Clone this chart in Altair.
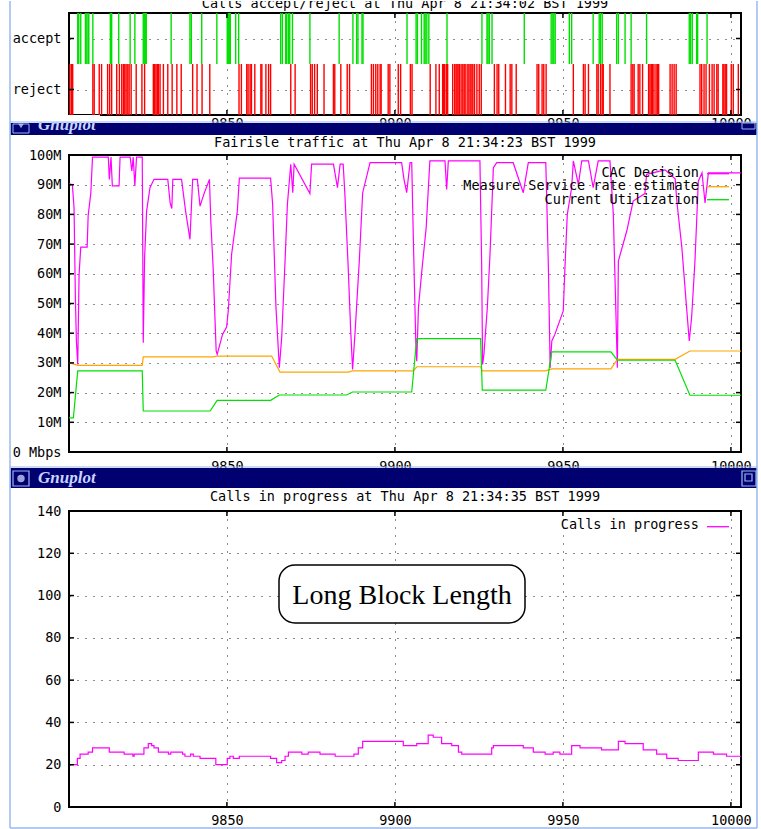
import altair as alt
import pandas as pd

MONO = "DejaVu Sans Mono"
SERIF = "Liberation Serif"
FS = 13.5
W = 672
H1, H2, H3 = 102, 297, 296
S0, S1, S2, S3 = 12, 40, 59, 23
NAVY = "#000070"
FRAME = "#9ab8ee"
BARTEXT = "#c8d6ff"

X_DOMAIN = [9803, 10003]
X_TICKS = [9850, 9900, 9950, 10000]

titles = [
    "Calls accept/reject at Thu Apr  8 21:34:02 BST 1999",
    "Fairisle traffic at Thu Apr  8 21:34:23 BST 1999",
    "Calls in progress at Thu Apr  8 21:34:35 BST 1999",
]
window_name = "Gnuplot"

# ---- panel 1: accept / reject impulses ----
decision_levels = ["accept", "reject"]
decision_colors = ["#00e000", "#ff0000"]
accept_x = [9805.6, 9805.9, 9806.5, 9807.9, 9808.3, 9808.7, 9808.9, 9810.1, 9815.3, 9815.7,
            9817.8, 9821.2, 9822.6, 9825.1, 9825.4, 9825.7, 9826.0, 9833.4, 9839.0, 9839.4,
            9842.5, 9847.0, 9850.1, 9850.4, 9850.7, 9851.0, 9852.6, 9853.5, 9866.0, 9866.5,
            9867.5, 9867.8, 9868.3, 9868.7, 9869.5, 9874.7, 9883.4, 9887.5, 9888.6, 9889.0,
            9890.2, 9890.5, 9903.6, 9906.3, 9906.7, 9907.9, 9908.7, 9909.0, 9909.5, 9910.1,
            9915.5, 9925.9, 9927.4, 9927.7, 9928.1, 9928.9, 9938.5, 9946.5, 9947.0, 9947.3,
            9947.7, 9951.9, 9952.6, 9959.0, 9960.8, 9961.2, 9961.7, 9966.0, 9966.5, 9968.5,
            9970.3, 9974.9, 9987.6, 9988.0, 9988.5, 9989.8, 9990.1, 9992.9]
reject_x = [9803.3, 9803.8, 9804.1, 9810.1, 9810.5, 9812.0, 9812.7, 9814.5, 9815.1, 9815.7,
            9817.2, 9818.0, 9818.7, 9819.2, 9819.6, 9820.0, 9820.5, 9820.9, 9821.5, 9823.0,
            9824.7, 9825.5, 9828.1, 9828.5, 9828.9, 9829.3, 9829.6, 9830.1, 9831.1, 9832.4,
            9833.7, 9835.1, 9836.4, 9839.8, 9841.1, 9842.6, 9844.9,
            9853.6, 9854.3, 9855.9, 9856.3, 9856.9, 9857.3, 9858.3, 9860.1, 9860.4, 9861.6,
            9862.4, 9863.0, 9869.0, 9870.3, 9874.9, 9875.4, 9876.1, 9876.9, 9878.9, 9881.7,
            9882.1, 9883.9, 9885.8, 9886.5, 9893.0, 9893.6, 9894.3, 9894.9, 9895.6, 9895.9,
            9898.0, 9898.5, 9901.0, 9901.7,
            9904.6, 9905.1, 9910.5, 9912.2, 9913.2, 9914.2, 9914.5, 9914.8, 9915.3, 9915.7,
            9917.2, 9917.8, 9918.2, 9918.5, 9918.8, 9919.2, 9919.7, 9920.2, 9920.6, 9920.9,
            9921.5, 9922.0, 9922.4, 9922.9, 9923.2, 9923.7, 9924.4, 9925.1, 9925.7, 9929.6,
            9930.4, 9930.9, 9932.9, 9934.3, 9934.8, 9936.1, 9942.3, 9942.8, 9943.8, 9944.3,
            9945.0,
            9953.1, 9956.1, 9956.6, 9957.6, 9960.1, 9960.5, 9961.2, 9961.7, 9962.0, 9964.0,
            9970.3, 9970.8, 9971.2, 9972.4, 9972.9, 9973.7, 9975.5, 9975.9, 9976.3, 9976.7,
            9977.1, 9977.7, 9978.1, 9978.5, 9981.9, 9982.5, 9983.1, 9983.7, 9990.8, 9991.3,
            9992.0, 9992.6, 9993.6, 9994.4, 9995.0, 9995.8, 9996.2, 9997.6, 9997.9, 9998.3,
            9998.7, 10000.1, 10000.7, 10002.2]

# ---- panel 2: traffic (Mbps) ----
traffic_names = ["CAC Decision", "Measure Service rate estimate", "Current Utilization"]
traffic_colors = ["#ff00ff", "#ffa500", "#00e000"]
traffic_ticks = [0, 10, 20, 30, 40, 50, 60, 70, 80, 90, 100]

cac_x = [9803.0, 9804.0, 9804.5, 9804.9, 9805.2, 9805.6, 9806.0, 9806.5, 9808.4, 9808.7,
         9809.5, 9810.0, 9814.7, 9815.0, 9815.5, 9815.9, 9817.9, 9818.2, 9821.2, 9821.7,
         9822.1, 9822.6, 9823.1, 9824.8, 9825.1, 9825.5, 9826.1, 9827.1, 9828.3, 9832.4,
         9833.1, 9833.6, 9833.9, 9836.5, 9837.7, 9839.0, 9839.8, 9841.2, 9842.0, 9843.2,
         9844.8, 9845.2, 9845.9, 9846.8, 9847.1, 9848.7, 9849.9, 9850.4, 9851.4, 9853.1,
         9853.7, 9863.0, 9863.6, 9864.6, 9865.6, 9866.3, 9867.3, 9868.0, 9869.0, 9869.6,
         9870.0, 9874.7, 9875.2, 9881.7, 9882.9, 9883.7, 9884.6, 9885.1, 9886.1, 9886.8,
         9887.4, 9888.1, 9889.4, 9890.4, 9892.6, 9902.0, 9902.7, 9903.5, 9904.5, 9905.0,
         9905.5, 9906.2, 9906.5, 9907.0, 9908.0, 9909.3, 9910.4, 9914.9, 9915.4, 9915.9,
         9925.3, 9925.8, 9926.1, 9926.5, 9927.5, 9928.3, 9929.3, 9930.3, 9935.2, 9938.2,
         9939.7, 9944.9, 9945.2, 9945.7, 9946.2, 9946.7, 9947.6, 9950.1, 9950.6, 9951.3,
         9952.6, 9953.1, 9954.6, 9955.6, 9957.6, 9959.0, 9960.5, 9964.0, 9965.0, 9966.2,
         9966.5, 9969.0, 9970.9, 9974.4, 9974.9, 9980.4, 9983.4, 9983.9, 9985.4, 9986.8,
         9987.6, 9988.3, 9989.3, 9990.3, 9991.4, 9992.3, 9993.3, 10003.0]
cac_m = [90.3, 90.0, 82.3, 52.0, 37.4, 29.5, 59.8, 69.0, 69.0, 79.5,
         87.3, 99.3, 99.3, 91.8, 99.3, 89.6, 89.6, 99.3, 99.3, 94.6,
         99.3, 89.6, 99.3, 99.3, 36.8, 65.4, 81.1, 89.0, 91.8, 91.8,
         83.9, 82.0, 91.8, 91.8, 81.1, 71.6, 91.8, 91.8, 82.8, 87.0,
         91.8, 77.8, 62.0, 34.0, 32.9, 39.6, 42.1, 47.5, 66.6, 81.1,
         92.2, 92.2, 83.5, 48.6, 28.4, 38.5, 64.3, 83.4, 96.9, 87.3,
         96.9, 87.0, 96.9, 96.9, 89.0, 96.9, 96.9, 87.0, 62.0, 41.9,
         27.8, 39.6, 64.3, 87.3, 97.4, 97.4, 91.8, 87.3, 97.4, 97.4,
         71.0, 37.4, 30.6, 48.6, 60.9, 75.5, 98.0, 98.0, 88.4, 98.0,
         98.0, 64.3, 29.5, 33.0, 48.6, 66.6, 95.7, 97.4, 97.4, 87.3,
         97.4, 97.4, 84.5, 60.9, 28.4, 37.4, 39.6, 47.5, 62.0, 80.0,
         89.0, 98.0, 90.1, 98.0, 98.0, 89.0, 98.0, 98.0, 80.0, 28.4,
         64.3, 74.4, 84.5, 87.0, 93.5, 95.0, 92.0, 84.5, 68.8, 48.6,
         37.4, 45.3, 64.3, 91.2, 94.0, 83.9, 94.0, 94.0]

rate_x = [9803.0, 9805.6, 9824.8, 9825.1, 9845.9, 9847.1, 9863.3, 9865.8, 9886.1, 9887.4,
          9905.5, 9906.5, 9925.5, 9926.0, 9944.9, 9946.7, 9964.3, 9966.2, 9983.4, 9987.8, 10003.0]
rate_m = [30.1, 29.2, 29.2, 32.0, 32.0, 32.3, 32.3, 26.9, 26.9, 27.3,
          27.3, 28.7, 28.7, 27.3, 27.3, 28.0, 28.0, 31.2, 31.2, 34.0, 34.0]

util_x = [9803.0, 9804.3, 9805.6, 9824.8, 9825.1, 9845.0, 9847.1, 9863.0, 9865.6, 9885.6,
          9887.4, 9905.0, 9906.5, 9925.5, 9926.0, 9944.9, 9946.7, 9964.3, 9966.2, 9983.4,
          9987.8, 10003.0]
util_m = [11.5, 11.5, 27.3, 27.3, 13.8, 13.8, 17.4, 17.4, 19.2, 19.2,
          20.2, 20.2, 38.2, 38.2, 20.8, 20.8, 33.7, 33.7, 30.9, 30.9,
          19.1, 19.1]

# ---- panel 3: calls in progress ----
calls_name = "Calls in progress"
calls_color = "#ff00ff"
block_label = "Long Block Length"
calls_ticks = [0, 20, 40, 60, 80, 100, 120, 140]
calls_x = [9803.0, 9805.5, 9806.3, 9808.7, 9810.0, 9815.0, 9819.4, 9822.0, 9822.4, 9825.3,
           9826.6, 9827.6, 9828.3, 9829.6, 9832.6, 9833.3, 9836.8, 9837.5, 9839.2, 9840.0,
           9842.0, 9846.7, 9850.1, 9850.9, 9851.9, 9853.7, 9863.0, 9864.8, 9866.3, 9867.3,
           9868.3, 9872.3, 9874.2, 9877.7, 9882.2, 9887.8, 9889.1, 9890.4, 9902.5, 9906.5,
           9909.9, 9911.4, 9913.9, 9916.9, 9918.9, 9919.9, 9928.8, 9929.3, 9938.2, 9941.2,
           9944.7, 9947.1, 9949.1, 9952.6, 9955.1, 9961.5, 9966.5, 9968.5, 9973.9, 9977.9,
           9980.9, 9984.3, 9990.3, 9994.8, 9998.7, 10003.0]
calls_n = [20, 23, 25, 26, 28, 26, 25, 24, 25, 28,
           30, 29, 28, 26, 25, 26, 25, 24, 25, 24,
           23, 20, 23, 24, 23, 24, 23, 21, 22, 24,
           26, 25, 26, 25, 24, 25, 28, 31, 29, 30,
           34, 33, 30, 29, 26, 25, 28, 29, 28, 26,
           25, 26, 25, 29, 28, 27, 31, 30, 27, 25,
           23, 22, 26, 25, 24, 24]

# ------------------------------------------------------------------
one = pd.DataFrame({"k": [0]})
v = alt.value
xs = alt.Scale(domain=X_DOMAIN, nice=False, zero=False)
GRID = dict(grid=True, gridDash=[1, 7], gridColor="#000", gridOpacity=0.9, gridWidth=1,
            ticks=False, domain=False, labelFont=MONO, labelFontSize=FS,
            labelColor="#000", labelFlush=False, title=None, labelOverlap=False)


def x_axis(pad):
    return alt.Axis(values=X_TICKS, format="d", labelPadding=pad, labelBaseline="top", **GRID)


def y_axis(values, expr):
    return alt.Axis(values=values, labelExpr=expr, labelPadding=8, **GRID)


def inward_ticks(ys, yvals, h, xax, yax):
    bx = alt.Chart(pd.DataFrame({"v": X_TICKS})).mark_rule(color="#000", strokeWidth=1.5)
    by = alt.Chart(pd.DataFrame({"v": yvals})).mark_rule(color="#000", strokeWidth=1.5)
    xf = alt.X("v:Q", scale=xs, axis=xax)
    yf = alt.Y("v:Q", scale=ys, axis=yax)
    return [
        bx.encode(x=xf, y=v(0), y2=v(5)),
        bx.encode(x=xf, y=v(h - 5), y2=v(h)),
        by.encode(y=yf, x=v(0), x2=v(5)),
        by.encode(y=yf, x=v(W - 5), x2=v(W)),
    ]


def text(t, x, y, **kw):
    base = dict(font=MONO, fontSize=FS, color="#000", baseline="alphabetic", align="center")
    base.update(kw)
    return alt.Chart(one).mark_text(**base).encode(x=v(x), y=v(y), text=v(t))


def box(x, x2, y, y2, **kw):
    return alt.Chart(one).mark_rect(**kw).encode(x=v(x), x2=v(x2), y=v(y), y2=v(y2))


def hline(x, x2, y, color, width):
    return alt.Chart(one).mark_rule(color=color, strokeWidth=width).encode(x=v(x), x2=v(x2), y=v(y))


def vline(x, y, y2, color, width):
    return alt.Chart(one).mark_rule(color=color, strokeWidth=width).encode(x=v(x), y=v(y), y2=v(y2))


PANEL_VIEW = alt.ViewBackground(stroke="#000", strokeWidth=2)
SPACER_VIEW = alt.ViewBackground(stroke="transparent", strokeWidth=0)

# ---- spacer 0: background + first (clipped) title ----
sp0 = alt.layer(
    box(-69, 692, 0, 829, fill="white"),
    text(titles[0], W / 2, 7, clip=True),
).properties(width=W, height=S0, view=SPACER_VIEW)

# ---- panel 1 ----
ys1 = alt.Scale(domain=[0, 1], nice=False, zero=False)
xax1 = x_axis(1)
yax1 = y_axis([0.25, 0.75], "datum.value > 0.5 ? 'accept' : 'reject'")
imp_layers = []
for lvl, col, xs_list in zip(decision_levels, decision_colors, [accept_x, reject_x]):
    d = pd.DataFrame({"x": xs_list})
    d["y0"] = 0.5
    d["y1"] = 1.0 if lvl == "accept" else 0.0
    imp_layers.append(
        alt.Chart(d).mark_rule(strokeWidth=1.4, color=col).encode(
            x=alt.X("x:Q", scale=xs, axis=xax1),
            y=alt.Y("y0:Q", scale=ys1, axis=yax1),
            y2="y1:Q",
        )
    )
panel1 = alt.layer(*imp_layers, *inward_ticks(ys1, [0.25, 0.75], H1, xax1, yax1)).properties(
    width=W, height=H1, view=PANEL_VIEW)

# ---- spacer 1: window bar + panel 2 title ----
sp1 = alt.layer(
    text(titles[1], W / 2, 31.5),
    box(-58.5, 688, 8, 20, fill=NAVY),
    box(-56, -40, 9, 18, fill=NAVY, stroke=FRAME, strokeWidth=1),
    alt.Chart(one).mark_point(shape="triangle-down", filled=True, color="#dde8ff", size=30)
    .encode(x=v(-48), y=v(11)),
    text(window_name, -31, 14.5, font=SERIF, fontSize=17, fontWeight="bold",
         fontStyle="italic", color=BARTEXT, align="left"),
    box(673, 686, 8, 14, fill=NAVY, stroke=FRAME, strokeWidth=1),
    box(-58, 31, 0, 7, fill="white"),
    hline(-59, 688, 7, FRAME, 1.2),
).properties(width=W, height=S1, view=SPACER_VIEW)

# ---- panel 2 ----
ys2 = alt.Scale(domain=[0, 100], nice=False, zero=False)
xax2 = x_axis(7)
yax2 = y_axis(traffic_ticks, "datum.value == 0 ? '0 Mbps' : datum.value + 'M'")
line_layers = []
for name, col, xs_, ms_ in zip(traffic_names, traffic_colors,
                               [cac_x, rate_x, util_x], [cac_m, rate_m, util_m]):
    d = pd.DataFrame({"x": xs_, "m": ms_, "i": list(range(len(xs_)))})
    line_layers.append(
        alt.Chart(d).mark_line(strokeWidth=1.2, color=col).encode(
            x=alt.X("x:Q", scale=xs, axis=xax2),
            y=alt.Y("m:Q", scale=ys2, axis=yax2),
            order="i:Q",
        )
    )
leg2 = []
for k, (name, col) in enumerate(zip(traffic_names, traffic_colors)):
    leg2.append(text(name, 630, 21.5 + 13.5 * k, align="right"))
    leg2.append(hline(638, 660, 18.7 + 13 * k, col, 1.3))
panel2 = alt.layer(*line_layers, *leg2,
                   *inward_ticks(ys2, traffic_ticks, H2, xax2, yax2)).properties(
    width=W, height=H2, view=PANEL_VIEW)

# ---- spacer 2: window bar + panel 3 title ----
sp2 = alt.layer(
    hline(-59, 688, 15, FRAME, 1.2),
    box(-58.5, 688, 16, 36, fill=NAVY),
    box(-56, -40, 19, 34, fill=NAVY, stroke=FRAME, strokeWidth=1.2),
    alt.Chart(one).mark_point(shape="circle", filled=True, color="#dde8ff", size=55)
    .encode(x=v(-48), y=v(26.5)),
    text(window_name, -31, 30.5, font=SERIF, fontSize=17, fontWeight="bold",
         fontStyle="italic", color=BARTEXT, align="left"),
    box(673, 687, 19, 34, fill=NAVY, stroke=FRAME, strokeWidth=1.2),
    box(676, 683, 22, 29, fill=NAVY, stroke=FRAME, strokeWidth=1.2),
    text(titles[2], W / 2, 49),
).properties(width=W, height=S2, view=SPACER_VIEW)

# ---- panel 3 ----
calls_df = pd.DataFrame({"x": calls_x, "n": calls_n})
ys3 = alt.Scale(domain=[0, 140], nice=False, zero=False)
xax3 = x_axis(6)
yax3 = y_axis(calls_ticks, "datum.label")
calls_line = alt.Chart(calls_df).mark_line(
    interpolate="step-after", color=calls_color, strokeWidth=1.2).encode(
    x=alt.X("x:Q", scale=xs, axis=xax3),
    y=alt.Y("n:Q", scale=ys3, axis=yax3),
)
panel3 = alt.layer(
    calls_line,
    box(210, 456, 54, 112, fill="white", stroke="#000", strokeWidth=1.5, cornerRadius=16),
    text(block_label, 333, 93, font=SERIF, fontSize=28),
    text(calls_name, 630, 18, align="right"),
    hline(638, 660, 15.7, calls_color, 1.3),
    *inward_ticks(ys3, calls_ticks, H3, xax3, yax3),
).properties(width=W, height=H3, view=PANEL_VIEW)

# ---- spacer 3: window frame ----
sp3 = alt.layer(
    vline(-59, -806, 21, FRAME, 1.5),
    vline(688, -806, 21, FRAME, 1.5),
    hline(-59, 688, 21, FRAME, 1.5),
).properties(width=W, height=S3, view=SPACER_VIEW)

chart = alt.vconcat(
    sp0, panel1, sp1, panel2, sp2, panel3, sp3, spacing=0, bounds="flush"
).resolve_scale(x="independent", y="independent").properties(
    padding=0, background="white").configure_view(stroke="transparent")

chart.save("out.html", embed_options={"renderer": "svg", "actions": False})
